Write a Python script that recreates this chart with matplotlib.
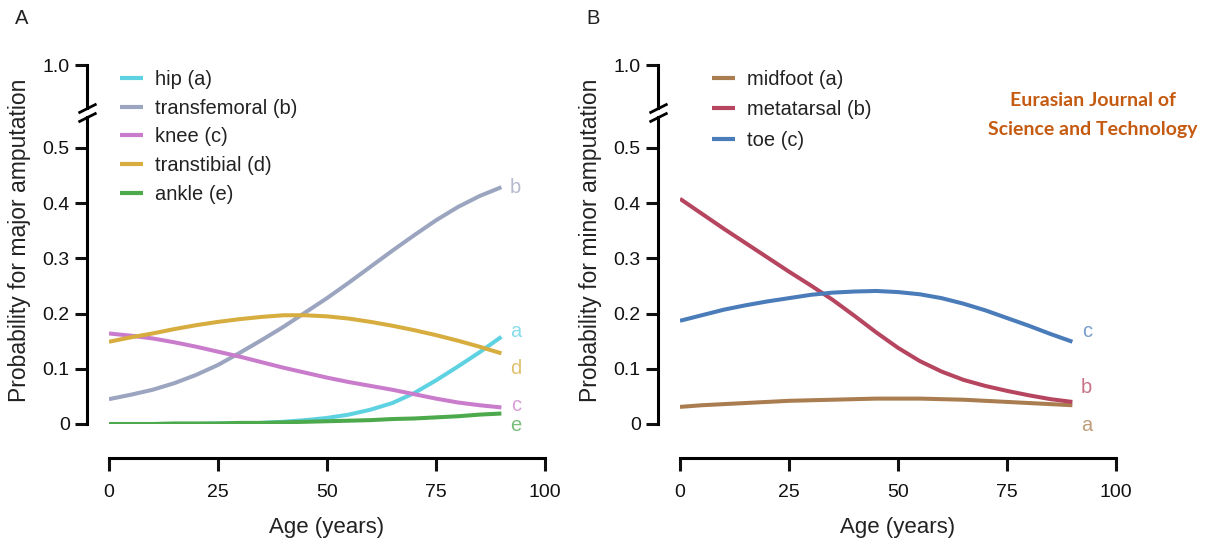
import matplotlib
matplotlib.use("Agg")
import matplotlib.pyplot as plt
from matplotlib.transforms import ScaledTranslation

plt.rcParams['font.family'] = ['Liberation Sans', 'DejaVu Sans']

ages = [0, 5, 10, 15, 20, 25, 30, 35, 40, 45, 50, 55, 60, 65, 70, 75, 80, 85, 90]

# panel A: major amputation
hip = [0.000, 0.000, 0.000, 0.000, 0.000, 0.001, 0.001, 0.002, 0.004, 0.007,
       0.011, 0.017, 0.026, 0.038, 0.056, 0.079, 0.104, 0.130, 0.158]
transfemoral = [0.045, 0.053, 0.062, 0.074, 0.089, 0.107, 0.129, 0.152, 0.176, 0.202,
                0.228, 0.256, 0.285, 0.314, 0.342, 0.369, 0.393, 0.413, 0.429]
knee = [0.164, 0.160, 0.155, 0.148, 0.140, 0.131, 0.122, 0.112, 0.102, 0.093,
        0.084, 0.076, 0.069, 0.062, 0.054, 0.046, 0.039, 0.034, 0.030]
transtibial = [0.149, 0.157, 0.164, 0.172, 0.179, 0.185, 0.190, 0.194, 0.197, 0.197,
               0.195, 0.191, 0.185, 0.178, 0.170, 0.161, 0.151, 0.140, 0.128]
ankle = [0.000, 0.000, 0.000, 0.001, 0.001, 0.001, 0.002, 0.002, 0.003, 0.004,
         0.005, 0.006, 0.007, 0.009, 0.010, 0.012, 0.014, 0.017, 0.019]

major_names = ['hip (a)', 'transfemoral (b)', 'knee (c)', 'transtibial (d)', 'ankle (e)']
major_colors = ['#5fd2e2', '#9ca5bf', '#c97ccb', '#d6ad3e', '#4ca94c']
major_letters = ['a', 'b', 'c', 'd', 'e']
major_letter_y = [0.167, 0.429, 0.033, 0.101, -0.002]

# panel B: minor amputation
midfoot = [0.031, 0.034, 0.036, 0.038, 0.040, 0.042, 0.043, 0.044, 0.045, 0.046,
           0.046, 0.046, 0.045, 0.044, 0.042, 0.040, 0.038, 0.036, 0.034]
metatarsal = [0.408, 0.381, 0.354, 0.328, 0.302, 0.276, 0.251, 0.225, 0.196, 0.166,
              0.138, 0.114, 0.095, 0.080, 0.069, 0.060, 0.052, 0.045, 0.040]
toe = [0.187, 0.197, 0.207, 0.215, 0.222, 0.228, 0.234, 0.238, 0.240, 0.241,
       0.239, 0.235, 0.228, 0.218, 0.206, 0.192, 0.178, 0.163, 0.149]

minor_names = ['midfoot (a)', 'metatarsal (b)', 'toe (c)']
minor_colors = ['#a97d4f', '#b6455f', '#4a7cb9']
minor_letters = ['a', 'b', 'c']
minor_letter_y = [-0.002, 0.067, 0.167]

xticks = [0, 25, 50, 75, 100]
yticks = [0, 0.1, 0.2, 0.3, 0.4, 0.5]
ytick_labels = ['0', '0.1', '0.2', '0.3', '0.4', '0.5']

W, H = 1210, 545
fig = plt.figure(figsize=(W / 100, H / 100), dpi=100)


def px(x, y):
    return x / W, 1 - y / H


def panel(x0, series, names, colors, letters, letter_y, ylabel, tag,
          legend_xy, spacing):
    left = x0 / W
    width = 436 / W
    low = fig.add_axes([left, 1 - 424 / H, width, (424 - 117) / H])
    high = fig.add_axes([left, 1 - 108 / H, width, (108 - 65) / H])

    lines = []
    for ys, c in zip(series, colors):
        ln, = low.plot(ages, ys, color=c, lw=2.9, solid_capstyle='butt')
        lines.append(ln)
    for l, y, c in zip(letters, letter_y, colors):
        low.text(93.3, y, l, color=c, alpha=0.75, fontsize=14.5,
                 ha='center', va='center')

    low.set_xlim(0, 100)
    low.set_ylim(0, (424 - 117) / 552)
    high.set_ylim(1 - 43 / 552, 1.0)
    high.set_xlim(0, 100)

    for ax in (low, high):
        ax.spines['top'].set_visible(False)
        ax.spines['right'].set_visible(False)
        ax.spines['left'].set_position(('outward', 22 * 0.72))
        ax.spines['left'].set_linewidth(2.2)
        ax.tick_params(axis='y', direction='out', length=8.5, width=2.2,
                       labelsize=14, pad=4, colors='#111111')
        ax.patch.set_visible(False)
    high.spines['bottom'].set_visible(False)
    high.set_xticks([])
    high.set_yticks([1.0])
    high.set_yticklabels(['1.0'])

    low.spines['bottom'].set_position(('outward', 34 * 0.72))
    low.spines['bottom'].set_linewidth(2.2)
    low.tick_params(axis='x', direction='out', length=9.5, width=2.2,
                    labelsize=14, pad=9, colors='#111111')
    low.set_xticks(xticks)
    low.set_yticks(yticks)
    low.set_yticklabels(ytick_labels)
    low.set_xlabel('Age (years)', fontsize=16, labelpad=12, color='#222222')

    # axis break marks on the offset spine
    shift = ScaledTranslation(-0.22, 0, fig.dpi_scale_trans)
    mk = dict(marker=[(-1, -0.5), (1, 0.5)], markersize=13, linestyle='none',
              color='k', mec='k', mew=2.0, clip_on=False)
    low.plot([0], [1], transform=low.transAxes + shift, **mk)
    high.plot([0], [0], transform=high.transAxes + shift, **mk)

    lx = x0 - 89
    fig.text(*px(lx, 240), ylabel, rotation=90, ha='center', va='center',
             fontsize=16.5, color='#222222')
    fig.text(*px(lx + 2, 19), tag, ha='center', va='center', fontsize=14.5,
             color='#222222')

    leg = low.legend(lines, names, loc='upper left',
                     bbox_to_anchor=px(*legend_xy),
                     bbox_transform=fig.transFigure, frameon=False,
                     fontsize=14.5, handlelength=1.15, handletextpad=0.6,
                     labelspacing=spacing, borderpad=0, borderaxespad=0)
    for t in leg.get_texts():
        t.set_color('#222222')
    for h in leg.get_lines():
        h.set_linewidth(3.0)


panel(109, [hip, transfemoral, knee, transtibial, ankle], major_names,
      major_colors, major_letters, major_letter_y,
      'Probability for major amputation', 'A', (120, 70), 0.48)
panel(680, [midfoot, metatarsal, toe], minor_names,
      minor_colors, minor_letters, minor_letter_y,
      'Probability for minor amputation', 'B', (712, 70), 0.56)

fig.text(*px(1093, 100), 'Eurasian Journal of', ha='center', va='center',
         fontsize=14, fontweight='bold', color='#c55a11',
         family=['Lato', 'DejaVu Sans'])
fig.text(*px(1093, 129), 'Science and Technology', ha='center', va='center',
         fontsize=14, fontweight='bold', color='#c55a11',
         family=['Lato', 'DejaVu Sans'])

fig.savefig('out.png', dpi=100)
